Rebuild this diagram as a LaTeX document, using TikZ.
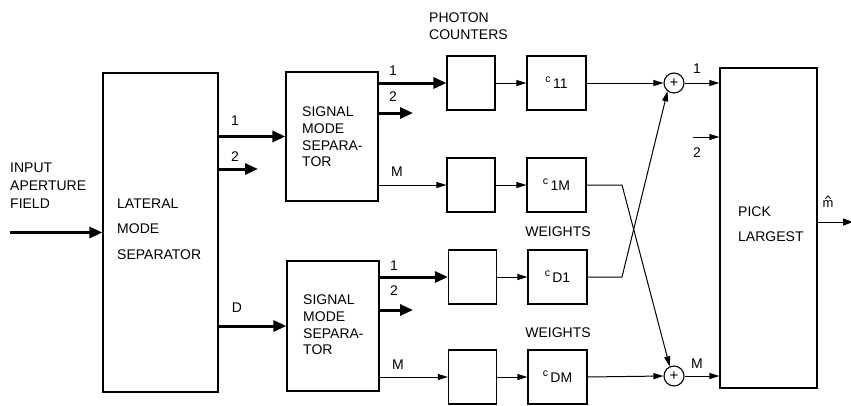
\documentclass[tikz,border=0pt]{standalone}
\usepackage{fontspec}
\setmainfont{Liberation Sans}
\usetikzlibrary{arrows.meta,calc}
\begin{document}
\begin{tikzpicture}[x=1pt,y=-1pt,
  box/.style={draw,line width=1.2pt,inner sep=0pt},
  txt/.style={inner sep=0pt,font=\fontsize{14}{16}\selectfont},
  lbl/.style={inner sep=0pt,font=\fontsize{14}{16}\selectfont},
  sumnode/.style={circle,draw,line width=1.1pt,minimum size=20pt,inner sep=0pt,font=\fontsize{15}{15}\selectfont},
  thickarrow/.style={line width=3pt,-{Triangle[length=13pt,width=11pt]}},
  thinarrow/.style={line width=1pt,-{Triangle[length=10pt,width=6pt]}},
  pcbox/.style={box,minimum width=48pt,minimum height=54pt},
  wbox/.style={box,minimum width=59pt,minimum height=54pt,font=\fontsize{14}{16}\selectfont}
]
\useasboundingbox (0,0) rectangle (851,405);
\newcommand{\wlab}[1]{\raisebox{0.45em}{\fontsize{10.5}{12}\selectfont c}\,#1}

% main boxes
\node[box,minimum width=115pt,minimum height=319pt] (lat) at (160.5,232.5) {};
\node[txt,align=left,anchor=west,font=\fontsize{14}{25.5}\selectfont] (lattxt) at (117,229) {LATERAL\\MODE\\SEPARATOR};
\node[txt,align=left,anchor=west,font=\fontsize{14}{18}\selectfont] (inputtxt) at (10,186) {INPUT\\APERTURE\\FIELD};

\node[box,minimum width=92pt,minimum height=129pt] (sms1) at (332,136.5) {};
\node[txt,align=left,anchor=west,font=\fontsize{14}{16.6}\selectfont] (sms1txt) at (302,137) {SIGNAL\\MODE\\SEPARA-\\TOR};
\node[box,minimum width=92pt,minimum height=130pt] (sms2) at (333,326) {};
\node[txt,align=left,anchor=west,font=\fontsize{14}{16.6}\selectfont] (sms2txt) at (303,325) {SIGNAL\\MODE\\SEPARA-\\TOR};

% photon counters
\node[pcbox] (pc11) at (471,83) {};
\node[pcbox] (pc1M) at (471,185) {};
\node[pcbox] (pcD1) at (472.5,277) {};
\node[pcbox] (pcDM) at (472.5,377) {};
% weights
\node[wbox] (w11) at (556.5,83) {\wlab{11}};
\node[wbox] (w1M) at (556.5,185) {\wlab{1M}};
\node[wbox] (wD1) at (557.5,277) {\wlab{D1}};
\node[wbox] (wDM) at (557.5,377) {\wlab{DM}};

\node[txt,align=left,anchor=west,font=\fontsize{14}{17}\selectfont] (pctxt) at (429,26.5) {PHOTON\\COUNTERS};
\node[txt] (wt1) at (558,232) {WEIGHTS};
\node[txt] (wt2) at (558,333) {WEIGHTS};

% sums
\node[sumnode] (s1) at (674,83) {+};
\node[sumnode] (sM) at (674,376) {+};

% pick largest
\node[box,minimum width=97pt,minimum height=320pt] (pick) at (768.5,228) {};
\node[txt,align=left,anchor=west,font=\fontsize{14}{25}\selectfont] (picktxt) at (738,224.5) {PICK\\LARGEST};

% input
\coordinate (inp) at (10,232.5);
\draw[thickarrow] (inp) -- (inp -| lat.west);

% lateral outputs
\draw[thickarrow] (lat.east |- sms1.west) -- (sms1.west);
\coordinate (l2) at (258,169);
\draw[thickarrow] (l2 -| lat.east) -- (l2);
\draw[thickarrow] (lat.east |- sms2.west) -- (sms2.west);
\node[lbl] (ll1) at (235,121) {1};
\node[lbl] (ll2) at (235,157) {2};
\node[lbl] (llD) at (237,308) {D};

% sms1 outputs
\draw[thickarrow] (sms1.east |- pc11.west) -- (pc11.west);
\coordinate (t2) at (413,113);
\draw[thickarrow] (t2 -| sms1.east) -- (t2);
\draw[thinarrow] (sms1.east |- pc1M.west) -- (pc1M.west);
\node[lbl] (a1) at (393,71) {1};
\node[lbl] (a2) at (393,97) {2};
\node[lbl] (aM) at (397,172) {M};

% sms2 outputs
\draw[thickarrow] (sms2.east |- pcD1.west) -- (pcD1.west);
\coordinate (b2) at (413,310);
\draw[thickarrow] (b2 -| sms2.east) -- (b2);
\draw[thinarrow] (sms2.east |- pcDM.west) -- (pcDM.west);
\node[lbl] (b1l) at (394,266) {1};
\node[lbl] (b2l) at (394,291) {2};
\node[lbl] (bMl) at (398,365) {M};

% counters to weights
\draw[thinarrow] (pc11.east) -- (w11.west);
\draw[thinarrow] (pc1M.east) -- (w1M.west);
\draw[thinarrow] (pcD1.east) -- (wD1.west);
\draw[thinarrow] (pcDM.east) -- (wDM.west);

% weights to sums
\draw[thinarrow] (w11.east) -- (s1.west);
\draw[thinarrow] (wDM.east) -- (sM.west);
\coordinate (k) at (622,0);
\draw[thinarrow] (w1M.east) -- (w1M.east -| k) -- (sM.114);
\draw[thinarrow] (wD1.east) -- (wD1.east -| k) -- (s1.-128);

% sums to pick
\draw[thinarrow] (s1.east) -- (s1.east -| pick.west);
\draw[thinarrow] (sM.east) -- (sM.east -| pick.west);
\coordinate (p2) at (693,137);
\draw[thinarrow] (p2) -- (p2 -| pick.west);
\node[lbl] (r1) at (697,69) {1};
\node[lbl] (r2) at (697,153) {2};
\node[lbl] (rM) at (697,364) {M};

% output
\coordinate (out) at (853,222);
\draw[line width=1pt,-{Triangle[length=10pt,width=7pt]}] (out -| pick.east) -- (out);
\node[inner sep=0pt,font=\fontsize{13}{14}\selectfont] (mhat) at (828,204) {m};
\draw[line width=0.8pt] ([xshift=-2.6pt,yshift=1.5pt]mhat.north) -- ([yshift=4.5pt]mhat.north) -- ([xshift=2.6pt,yshift=1.5pt]mhat.north);
\end{tikzpicture}
\end{document}
